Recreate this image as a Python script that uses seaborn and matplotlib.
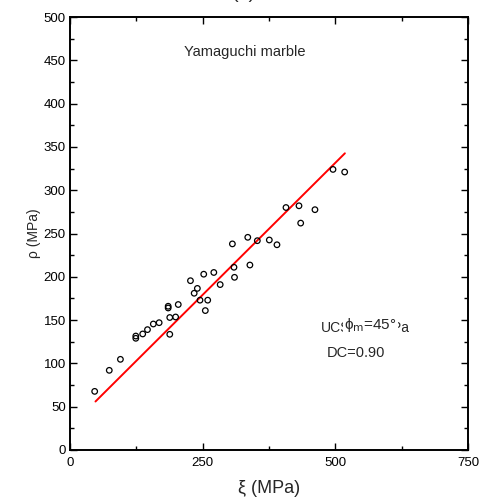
import numpy as np
import pandas as pd
import matplotlib
matplotlib.use("Agg")
import matplotlib.pyplot as plt
import seaborn as sns
from matplotlib.ticker import MultipleLocator

xi = [46.5, 74, 95, 124, 124, 137, 146, 157, 168, 185, 185, 188, 199, 188, 204,
      227, 234, 240, 245, 252, 259.5, 255, 271, 283, 306, 309, 310, 335, 339,
      353, 375.6, 390, 407, 431.5, 434.7, 461.6, 495.6, 517.6]
rho = [67.7, 92, 104.7, 131.6, 129, 134, 139, 145.5, 147, 166, 164, 153, 153.6,
       133.6, 168, 195.5, 181, 186.6, 173, 203, 173, 161, 205, 191, 238, 211,
       199.4, 245.6, 213.6, 241.7, 242.5, 237, 280, 282, 262, 277.5, 324, 321]
fit_x = [48, 518]
fit_y = [56, 342.6]

x_ticks = [0, 250, 500, 750]
y_ticks = [0, 50, 100, 150, 200, 250, 300, 350, 400, 450, 500]

sns.set_style("ticks")
plt.rcParams['font.family'] = ['Liberation Sans', 'DejaVu Sans']
plt.rcParams['mathtext.fontset'] = 'dejavusans'

fig = plt.figure(figsize=(4.9, 5.03), dpi=100)
ax = fig.add_axes([70/490, 53/503, (468-70)/490, (450-17)/503])

df = pd.DataFrame({"xi": xi, "rho": rho})
fit = pd.DataFrame({"x": fit_x, "y": fit_y})

sns.lineplot(data=fit, x="x", y="y", ax=ax, color="#ff0000", linewidth=1.4, zorder=2)
sns.scatterplot(data=df, x="xi", y="rho", ax=ax, marker="o", s=16,
                facecolors="none", edgecolor="black", linewidth=0.9, zorder=3)

ax.set_xlim(0, 750)
ax.set_ylim(0, 500)
ax.set_xticks(x_ticks)
ax.set_yticks(y_ticks)
ax.xaxis.set_minor_locator(MultipleLocator(125))
ax.yaxis.set_minor_locator(MultipleLocator(25))
ax.tick_params(which="both", direction="in", top=True, right=True,
               width=1.0, labelsize=9.5, colors="black")
ax.tick_params(axis="x", pad=5)
ax.tick_params(axis="y", pad=3)
ax.tick_params(which="major", length=5)
ax.tick_params(which="minor", length=3)
for sp in ax.spines.values():
    sp.set_linewidth(1.4)
    sp.set_color("black")

ax.set_xlabel("ξ (MPa)", fontsize=13, labelpad=8)
ax.set_ylabel("ρ (MPa)", fontsize=10, labelpad=2)

ax.text(330, 460, "Yamaguchi marble", fontsize=10.5, ha="center", va="center")
ax.text(472, 141, "UCS=140MPa", fontsize=10, ha="left", va="center")
ax.text(516, 144, "ϕ$_{\\mathrm{m}}$=45°", fontsize=11, ha="left", va="center",
        bbox=dict(facecolor="white", edgecolor="none", pad=0.9))
ax.text(484, 112, "DC=0.90", fontsize=10.5, ha="left", va="center")

fig.text(0.497, 1.013, "(a)", fontsize=14, ha="center", va="center")

fig.savefig("out.png", dpi=100)
